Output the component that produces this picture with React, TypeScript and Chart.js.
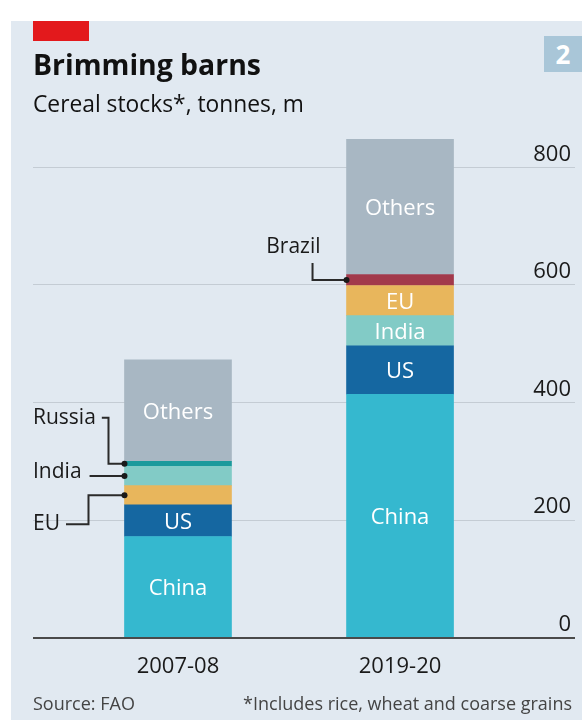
import React, { useEffect, useRef } from 'react';
import { Chart, registerables } from 'chart.js';

Chart.register(...registerables);

// ---- data ----
const categories = ['2007-08', '2019-20'];
const china = [172, 414];
const us = [54, 82.5];
const eu = [32.5, 51.3];
const india = [33, 51.2];
const russia = [8.5, null];
const brazil = [null, 18.8];
const others = [172.6, 230];
const yTickValues = [0, 200, 400, 600, 800];

const COLORS = {
  china: '#35b8cf',
  us: '#1567a1',
  eu: '#e8b65c',
  india: '#82cbc6',
  russia: '#1b9a9c',
  brazil: '#a2394b',
  others: '#a8b7c3',
};

const FONT = "'Open Sans', 'Noto Sans', sans-serif";

function pts(arr: (number | null)[], only?: number) {
  return arr.map((v, i) => ({ x: i, y: only === undefined || only === i ? v : null }));
}

// stacking order differs per bar, so EU is split into two masked datasets
const datasets: any[] = [
  { label: 'China', data: pts(china), backgroundColor: COLORS.china, inner: [true, true] },
  { label: 'US', data: pts(us), backgroundColor: COLORS.us, inner: [true, true] },
  { label: 'EU', data: pts(eu, 0), backgroundColor: COLORS.eu, inner: [false, false], key: 'EU0' },
  { label: 'India', data: pts(india), backgroundColor: COLORS.india, inner: [false, true] },
  { label: 'EU', data: pts(eu, 1), backgroundColor: COLORS.eu, inner: [false, true], key: 'EU1' },
  { label: 'Russia', data: pts(russia), backgroundColor: COLORS.russia, inner: [false, false] },
  { label: 'Brazil', data: pts(brazil), backgroundColor: COLORS.brazil, inner: [false, false] },
  { label: 'Others', data: pts(others), backgroundColor: COLORS.others, inner: [true, true] },
];

// callout annotations: dataset key, bar index, style of leader line
const callouts = [
  { key: 'Russia', i: 0, text: 'Russia', kind: 'elbowDown' },
  { key: 'India', i: 0, text: 'India', kind: 'straight' },
  { key: 'EU0', i: 0, text: 'EU', kind: 'elbowUp' },
  { key: 'Brazil', i: 1, text: 'Brazil', kind: 'above' },
];

const labelPlugin = {
  id: 'barLabels',
  afterDatasetsDraw(chart: any) {
    const ctx = chart.ctx;
    ctx.save();
    // inner labels
    ctx.font = `22px ${FONT}`;
    ctx.fillStyle = '#ffffff';
    ctx.textAlign = 'center';
    ctx.textBaseline = 'middle';
    chart.data.datasets.forEach((ds: any, d: number) => {
      const meta = chart.getDatasetMeta(d);
      meta.data.forEach((bar: any, i: number) => {
        if (!ds.inner || !ds.inner[i]) return;
        if (ds.data[i].y == null) return;
        ctx.fillText(ds.label, bar.x, (bar.y + bar.base) / 2 + 2);
      });
    });
    // callouts
    ctx.font = `21px ${FONT}`;
    ctx.fillStyle = '#1a1a1a';
    ctx.strokeStyle = '#2a2a2a';
    ctx.lineWidth = 2;
    callouts.forEach((c) => {
      const d = chart.data.datasets.findIndex((ds: any) => (ds.key || ds.label) === c.key);
      const bar: any = chart.getDatasetMeta(d).data[c.i];
      const dotX = bar.x - bar.width / 2;
      const dotY = (bar.y + bar.base) / 2;
      const left = chart.chartArea.left;
      ctx.beginPath();
      if (c.kind === 'elbowDown') {
        const ty = dotY - 46;
        ctx.textAlign = 'left';
        ctx.fillText(c.text, left, ty);
        const w = ctx.measureText(c.text).width;
        ctx.moveTo(left + w + 6, ty);
        ctx.lineTo(dotX - 16, ty);
        ctx.lineTo(dotX - 16, dotY);
        ctx.lineTo(dotX, dotY);
      } else if (c.kind === 'straight') {
        const ty = dotY - 4;
        ctx.textAlign = 'left';
        ctx.fillText(c.text, left, ty);
        const w = ctx.measureText(c.text).width;
        ctx.moveTo(left + w + 8, dotY);
        ctx.lineTo(dotX, dotY);
      } else if (c.kind === 'elbowUp') {
        const ty = dotY + 29;
        ctx.textAlign = 'left';
        ctx.fillText(c.text, left, ty);
        const w = ctx.measureText(c.text).width;
        ctx.moveTo(left + w + 6, ty);
        ctx.lineTo(dotX - 36, ty);
        ctx.lineTo(dotX - 36, dotY);
        ctx.lineTo(dotX, dotY);
      } else {
        const ty = dotY - 33;
        ctx.textAlign = 'right';
        ctx.fillText(c.text, dotX - 26, ty);
        ctx.moveTo(dotX - 34, dotY - 17);
        ctx.lineTo(dotX - 34, dotY);
        ctx.lineTo(dotX, dotY);
      }
      ctx.stroke();
      ctx.beginPath();
      ctx.fillStyle = '#1a1a1a';
      ctx.arc(dotX, dotY, 3, 0, Math.PI * 2);
      ctx.fill();
    });
    ctx.restore();
  },
};

function BarChart() {
  const ref = useRef<HTMLCanvasElement | null>(null);
  useEffect(() => {
    if (!ref.current) return;
    const chart = new Chart(ref.current, {
      type: 'bar',
      data: { datasets },
      options: {
        animation: false,
        responsive: false,
        devicePixelRatio: 1,
        layout: { padding: { left: 33, right: 7, top: 138, bottom: 32 } },
        datasets: { bar: { barThickness: 107, borderWidth: 0 } },
        plugins: { legend: { display: false }, tooltip: { enabled: false } },
        scales: {
          x: {
            type: 'linear',
            stacked: true,
            offset: false,
            min: -0.653,
            max: 1.788,
            afterBuildTicks: (scale: any) => {
              scale.ticks = categories.map((_, i) => ({ value: i }));
            },
            ticks: {
              callback: (v: any) => categories[v] ?? '',
              font: { family: FONT, size: 22 },
              color: '#1a1a1a',
              padding: 8,
              maxRotation: 0,
              autoSkip: false,
            },
            grid: { display: false },
            border: { display: false },
          },
          y: {
            type: 'linear',
            stacked: true,
            position: 'right',
            min: 0,
            max: 850,
            afterBuildTicks: (scale: any) => {
              scale.ticks = yTickValues.map((v) => ({ value: v }));
            },
            ticks: {
              mirror: true,
              padding: -4,
              labelOffset: -13,
              font: { family: FONT, size: 22 },
              color: '#1a1a1a',
            },
            grid: {
              drawTicks: false,
              color: (c: any) => (c.tick && c.tick.value === 0 ? '#4a4a4a' : '#c4ccd4'),
              lineWidth: (c: any) => (c.tick && c.tick.value === 0 ? 2 : 1),
            },
            border: { display: false },
          },
        },
      } as any,
      plugins: [labelPlugin],
    });
    return () => chart.destroy();
  }, []);
  return (
    <canvas
      ref={ref}
      width={582}
      height={720}
      style={{ position: 'absolute', left: 0, top: 0, width: 582, height: 720 }}
    />
  );
}

export default function App() {
  return (
    <div
      style={{
        position: 'absolute',
        left: 0,
        top: 0,
        width: 582,
        height: 720,
        background: '#ffffff',
        overflow: 'hidden',
        fontFamily: FONT,
        color: '#111',
      }}
    >
      <div style={{ position: 'absolute', left: 11, top: 21, right: 0, bottom: 0, background: '#e1e9f1' }} />
      <div style={{ position: 'absolute', left: 33, top: 21, width: 56, height: 20, background: '#e3191c' }} />
      <div
        style={{
          position: 'absolute',
          left: 544,
          top: 36,
          width: 38,
          height: 36,
          background: '#a9c6d8',
          color: '#fff',
          fontWeight: 700,
          fontSize: 26,
          lineHeight: '36px',
          textAlign: 'center',
        }}
      >
        2
      </div>
      <BarChart />
      <div
        style={{
          position: 'absolute',
          left: 33,
          top: 50,
          fontSize: 28.4,
          lineHeight: '29px',
          fontWeight: 700,
          whiteSpace: 'nowrap',
        }}
      >
        Brimming barns
      </div>
      <div
        style={{ position: 'absolute', left: 33, top: 92, fontSize: 22.8, lineHeight: '23px', whiteSpace: 'nowrap' }}
      >
        Cereal stocks*, tonnes, m
      </div>
      <div
        style={{
          position: 'absolute',
          left: 33,
          top: 692,
          fontSize: 18,
          lineHeight: '22px',
          color: '#444',
          whiteSpace: 'nowrap',
        }}
      >
        Source: FAO
      </div>
      <div
        style={{
          position: 'absolute',
          right: 10,
          top: 692,
          fontSize: 18,
          lineHeight: '22px',
          color: '#444',
          whiteSpace: 'nowrap',
        }}
      >
        *Includes rice, wheat and coarse grains
      </div>
    </div>
  );
}
